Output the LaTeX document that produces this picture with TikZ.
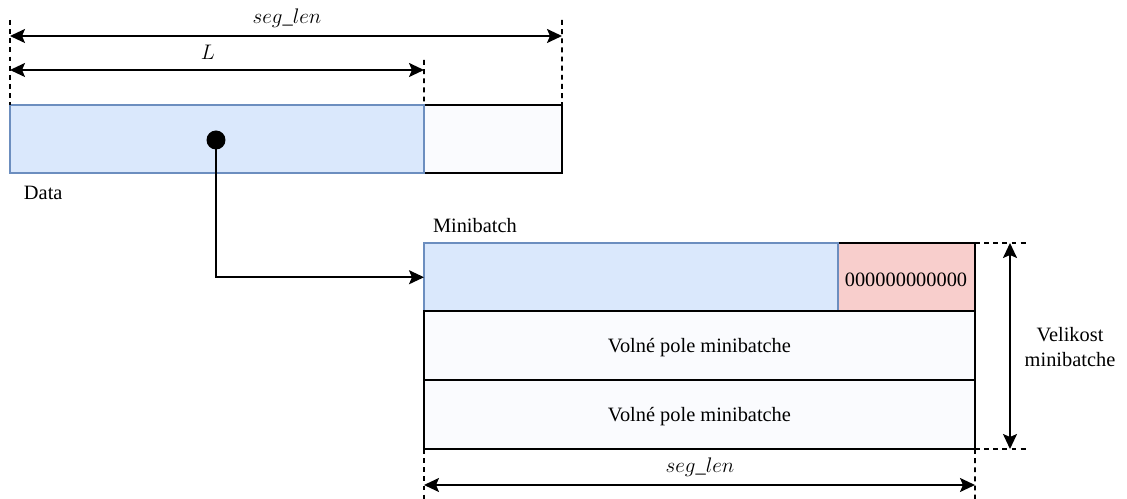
\documentclass[tikz,border=0pt]{standalone}
\usepackage{fontspec}
\setmainfont{Liberation Serif}
\usetikzlibrary{arrows.meta}

\definecolor{bluefill}{HTML}{DAE8FC}
\definecolor{blueline}{HTML}{6C8EBF}
\definecolor{redfill}{HTML}{F8CECC}
\definecolor{freefill}{HTML}{FAFBFE}

\begin{document}
\begin{tikzpicture}[x=0.02cm,y=-0.02cm,
    font=\fontsize{11.6}{14.5}\selectfont,
    every node/.style={inner sep=0pt,outer sep=0pt},
    freecell/.style={draw=black,line width=1.1pt,fill=freefill,text height=1.1em},
    datacell/.style={draw=blueline,line width=1.1pt,fill=bluefill},
    zerocell/.style={draw=black,line width=1.1pt,fill=redfill},
    dim/.style={line width=1.1pt,{Stealth[length=0.3cm,width=0.28cm,inset=0.06cm]}-{Stealth[length=0.3cm,width=0.28cm,inset=0.06cm]}},
    guide/.style={line width=1pt,dash pattern=on 2.8pt off 2.4pt}]
  \useasboundingbox (0,0) rectangle (1127,499);

  % data row
  \node[freecell,anchor=north west,minimum width=11.04cm,minimum height=1.36cm] (free) at (10,105) {};
  \node[datacell,anchor=north west,minimum width=8.28cm,minimum height=1.36cm] (data) at (10,105) {};
  \node[anchor=west] (datalbl) at (24,193) {Data};
  \node[circle,fill=black,minimum size=0.38cm] (dot) at (216,140) {};

  % minibatch
  \node[anchor=west] (mblbl) at (433,226) {Minibatch};
  \node[zerocell,anchor=north west,minimum width=11.02cm,minimum height=1.37cm] (zero) at (424,243) {};
  \node[text height=1.1em] at (906,277) (zeros) {000000000000};
  \node[datacell,anchor=north west,minimum width=8.28cm,minimum height=1.37cm] (mb) at (424,243) {};
  \node[freecell,anchor=north west,minimum width=11.02cm,minimum height=1.38cm] (row2) at (424,311) {Volné pole minibatche};
  \node[freecell,anchor=north west,minimum width=11.02cm,minimum height=1.38cm] (row3) at (424,380) {Volné pole minibatche};
  \node[align=center] (size) at (1070,347) {Velikost\\minibatche};

  \draw[line width=1.1pt,-{Stealth[length=0.3cm,width=0.28cm,inset=0.06cm]}] (dot) |- (mb.west);

  % dimensions
  \coordinate (a0) at (10,20);
  \coordinate (a1) at (562,20);
  \coordinate (a2) at (424,60);
  \coordinate (b0) at (975,243);
  \coordinate (b1) at (1027,243);
  \coordinate (b2) at (975,449);
  \coordinate (b3) at (1027,449);
  \coordinate (c0) at (424,499);
  \coordinate (c1) at (975,499);
  \begin{scope}[guide]
    \draw (a0) -- (data.north west);
    \draw (a1) -- (free.north east);
    \draw (a2) -- (data.north east);
    \draw (b0) -- (b1);
    \draw (b2) -- (b3);
    \draw (row3.south west) -- (c0);
    \draw (row3.south east) -- (c1);
  \end{scope}

  \coordinate (s0) at (10,36);
  \coordinate (s1) at (562,36);
  \coordinate (l0) at (10,70);
  \coordinate (l1) at (424,70);
  \coordinate (v0) at (1010,243);
  \coordinate (v1) at (1010,449);
  \coordinate (h0) at (424,485);
  \coordinate (h1) at (975,485);
  \draw[dim] (s0) -- (s1);
  \draw[dim] (l0) -- (l1);
  \draw[dim] (v0) -- (v1);
  \draw[dim] (h0) -- (h1);
  \node (seglbl) at (287,18) {$seg\_len$};
  \node (llbl) at (208,52) {$L$};
  \node (seglbl2) at (700,467) {$seg\_len$};
\end{tikzpicture}
\end{document}
